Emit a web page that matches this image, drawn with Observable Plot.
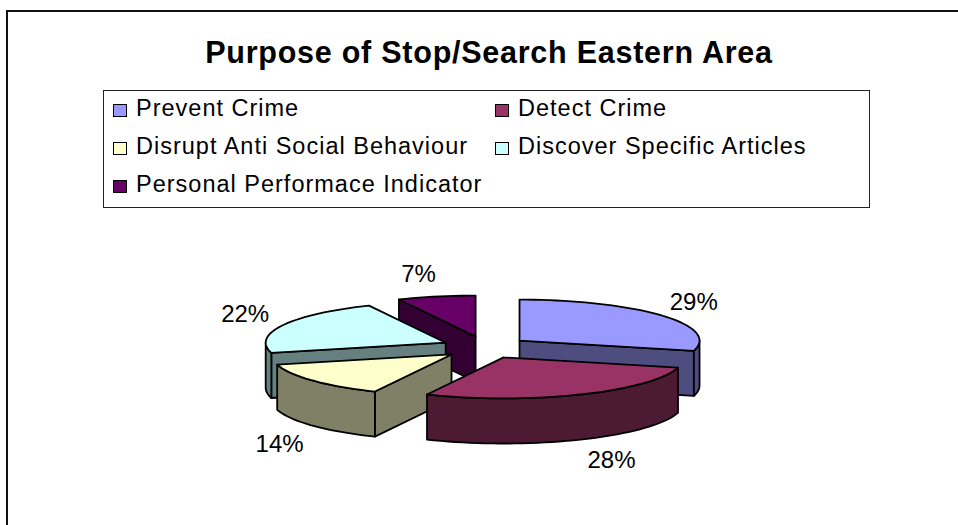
<!DOCTYPE html>
<html>
<head>
<meta charset="utf-8">
<script src="https://cdn.jsdelivr.net/npm/d3@7"></script>
<script src="https://cdn.jsdelivr.net/npm/@observablehq/plot@0.6"></script>
<style>
  html, body { margin: 0; padding: 0; background: #fff; }
  #page { position: relative; width: 958px; height: 525px; overflow: hidden; font-family: "Liberation Sans", Arial, sans-serif; color: #000; }
  #frame { position: absolute; left: 6px; top: 10px; width: 960px; height: 530px; border-left: 2px solid #111; border-top: 2px solid #111; }
  #title { position: absolute; left: 0; width: 978px; top: 36px; text-align: center; font-size: 30.5px; letter-spacing: 0.75px; font-weight: bold; line-height: 32px; white-space: nowrap; }
  #legend { position: absolute; left: 103px; top: 90px; width: 765px; height: 116px; border: 1px solid #222; box-sizing: content-box; }
  .entry { position: absolute; font-size: 23.5px; letter-spacing: 1px; line-height: 26px; white-space: nowrap; height: 26px; }
  .entry i { position: absolute; left: -23px; top: 9px; width: 12px; height: 11px; border: 1.5px solid #000; }
  svg { position: absolute; left: 0; top: 0; }
</style>
</head>
<body>
<div id="page">
  <div id="chart"></div>
  <div id="frame"></div>
  <div id="title">Purpose of Stop/Search Eastern Area</div>
  <div id="legend"></div>
</div>
<script>
// Slices of the exploded 3-D pie, clockwise from twelve o'clock
const purposes = ["Prevent Crime", "Detect Crime", "Disrupt Anti Social Behaviour", "Discover Specific Articles", "Personal Performace Indicator"];
const shares = [29, 28, 14, 22, 7];
const topColors = ["#9999FF", "#993366", "#FFFFCC", "#CCFFFF", "#660066"];
const sideColors = ["#4D4D80", "#4D1A33", "#808066", "#668080", "#330033"];

// Pie model in unit radii: the ellipse has radius 1 along both scales
const explode = 0.242;
const explodeY = 0.27;
const depth = 1.1;
const toRad = (s) => (s / 100) * 2 * Math.PI;

let running = 0;
const slices = shares.map((share, i) => {
  const a0 = running;
  running += share;
  const a1 = running;
  const mid = toRad((a0 + a1) / 2);
  return {i, share, name: purposes[i], a0, a1, mid,
    cx: explode * Math.sin(mid), cy: explodeY * Math.cos(mid)};
});

// Sample an arc of a slice between two cumulative shares
function arc(s, from, to, drop = 0) {
  const n = Math.max(2, Math.ceil(Math.abs(to - from) * 1.5));
  return d3.range(n + 1).map((k) => {
    const t = toRad(from + (to - from) * k / n);
    return [s.cx + Math.sin(t), s.cy + Math.cos(t) - drop];
  });
}

const faces = [];
function addFace(s, kind, points) {
  const id = faces.length;
  points.forEach(([x, y]) => faces.push({id: `${s.i}-${kind}-${id}`, x, y, fill: kind === "top" ? topColors[s.i] : sideColors[s.i]}));
}
function wall(s) {
  // The outer wall shows only where the rim faces the viewer (quarter past to quarter to)
  const from = Math.max(s.a0, 25), to = Math.min(s.a1, 75);
  if (from < to) {
    const rim = arc(s, from, to);
    const low = arc(s, to, from, depth);
    addFace(s, "wall", [...rim, ...low, rim[0]]);
  }
}
function radialFace(s, at) {
  const [p] = arc(s, at, at + 1);
  addFace(s, "cut", [[s.cx, s.cy], p, [p[0], p[1] - depth], [s.cx, s.cy - depth], [s.cx, s.cy]]);
}
// Painted from the back of the pie to the front
[4, 0, 3, 2, 1].forEach((i) => {
  const s = slices[i];
  if (i === 0) radialFace(s, s.a1);
  if (i === 2 || i === 3 || i === 4) radialFace(s, s.a0);
  wall(s);
  addFace(s, "top", [[s.cx, s.cy], ...arc(s, s.a0, s.a1), [s.cx, s.cy]]);
});

// Percent labels sit just outside each slice; the lower ones clear the wall as well
const nudgeX = [0, 14, -2, -1, -9];
const nudgeY = [1, 0, 4, -1, 0];
const labels = slices.map((s) => {
  const sin = Math.sin(s.mid), cos = Math.cos(s.mid);
  return {
    x: s.cx + 1.225 * sin,
    y: s.cy + 1.55 * cos - (cos < 0 ? depth : 0),
    text: `${s.share}%`,
    dx: nudgeX[s.i],
    dy: nudgeY[s.i]
  };
});

const radiusX = 180, radiusY = 41, centerX = 484.6, centerY = 346.9;
const plot = Plot.plot({
  width: 958, height: 525,
  margin: 0,
  axis: null,
  x: {domain: [-centerX / radiusX, (958 - centerX) / radiusX], range: [0, 958]},
  y: {domain: [centerY / radiusY, (centerY - 525) / radiusY], range: [0, 525]},
  marks: [
    Plot.line(faces, {x: "x", y: "y", z: "id", fill: "fill", stroke: "#000", strokeWidth: 1.8, strokeLinejoin: "round", curve: "linear"}),
    ...labels.map((l) => Plot.text([l], {x: "x", y: "y", text: "text", dx: l.dx, dy: l.dy, fontSize: 24, fontFamily: "Liberation Sans, Arial, sans-serif", fill: "#000"}))
  ]
});
document.getElementById("chart").append(plot);

// Two-column legend laid out in reading order
const legend = d3.select("#legend");
const cols = [32, 414], rows = [4, 42, 80];
purposes.forEach((name, i) => {
  const e = legend.append("div").attr("class", "entry")
    .style("left", `${cols[i % 2]}px`).style("top", `${rows[Math.floor(i / 2)]}px`);
  e.append("i").style("background", topColors[i]);
  e.append("span").text(name);
});
</script>
</body>
</html>
